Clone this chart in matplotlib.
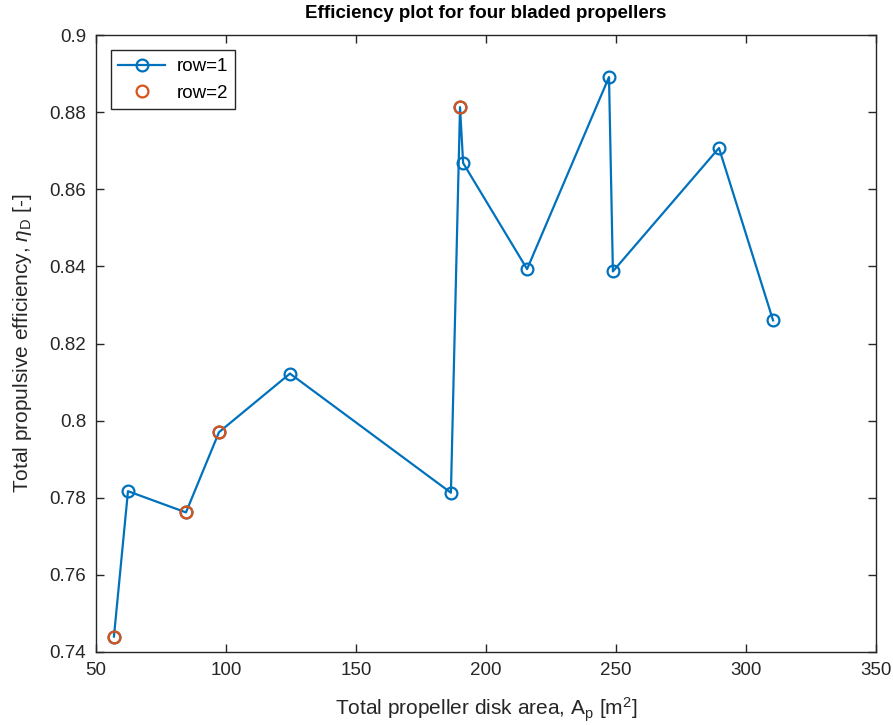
import matplotlib
matplotlib.use("Agg")
import matplotlib.pyplot as plt
from matplotlib.ticker import FuncFormatter

# Данные
area_row1 = [56.9, 62.3, 84.6, 97.3, 124.6, 186.5, 190.0, 191.2, 215.8, 247.3, 248.8, 289.6, 310.4]
eff_row1 = [0.7440, 0.7817, 0.7762, 0.7970, 0.8122, 0.7813, 0.8813, 0.8668, 0.8393, 0.8891, 0.8387, 0.8707, 0.8260]
area_row2 = [56.9, 84.6, 97.3, 190.0]
eff_row2 = [0.7440, 0.7762, 0.7970, 0.8813]

xticks = [50, 100, 150, 200, 250, 300, 350]
yticks = [0.74, 0.76, 0.78, 0.80, 0.82, 0.84, 0.86, 0.88, 0.90]

plt.rcParams['font.family'] = ['Liberation Sans', 'DejaVu Sans']
plt.rcParams['mathtext.fontset'] = 'custom'
plt.rcParams['mathtext.rm'] = 'Liberation Sans'
plt.rcParams['mathtext.it'] = 'Liberation Sans:italic'

fig = plt.figure(figsize=(8.93, 7.25), dpi=100)
ax = fig.add_axes([0.1075, 0.1007, 0.8735, 0.851])

ax.plot(area_row1, eff_row1, '-o', color='#0072BD', linewidth=1.6,
        markersize=8.5, markerfacecolor='none', markeredgewidth=1.6, label='row=1')
ax.plot(area_row2, eff_row2, 'o', color='#D95319', linestyle='none',
        markersize=8.5, markerfacecolor='none', markeredgewidth=1.6, label='row=2')

ax.set_xlim(50, 350)
ax.set_ylim(0.74, 0.9)
ax.set_xticks(xticks)
ax.set_yticks(yticks)
ax.yaxis.set_major_formatter(FuncFormatter(lambda v, p: '%g' % round(v, 2)))
ax.tick_params(direction='in', top=True, right=True, length=6, width=1,
               labelsize=13.5, colors='#262626', pad=7)
for s in ax.spines.values():
    s.set_linewidth(1)
    s.set_color('#262626')

ax.set_title("Efficiency plot for four bladed propellers", fontsize=13.5, fontweight='bold', pad=12)
ax.set_xlabel("Total propeller disk area, $\\mathrm{A_p}$ [m$^\\mathrm{2}$]", fontsize=15,
              color='#262626', labelpad=12)
ax.set_ylabel("Total propulsive efficiency, $\\it{\\eta}_\\mathrm{D}$ [-]", fontsize=15,
              color='#262626', labelpad=11)

leg = ax.legend(loc='upper left', fontsize=13.5, fancybox=False, framealpha=1,
                edgecolor='#262626', borderpad=0.4, handlelength=2.5, handletextpad=0.6,
                borderaxespad=0, bbox_to_anchor=(0.019, 0.975))
leg.get_frame().set_linewidth(1)

fig.savefig('out.png', dpi=100)
